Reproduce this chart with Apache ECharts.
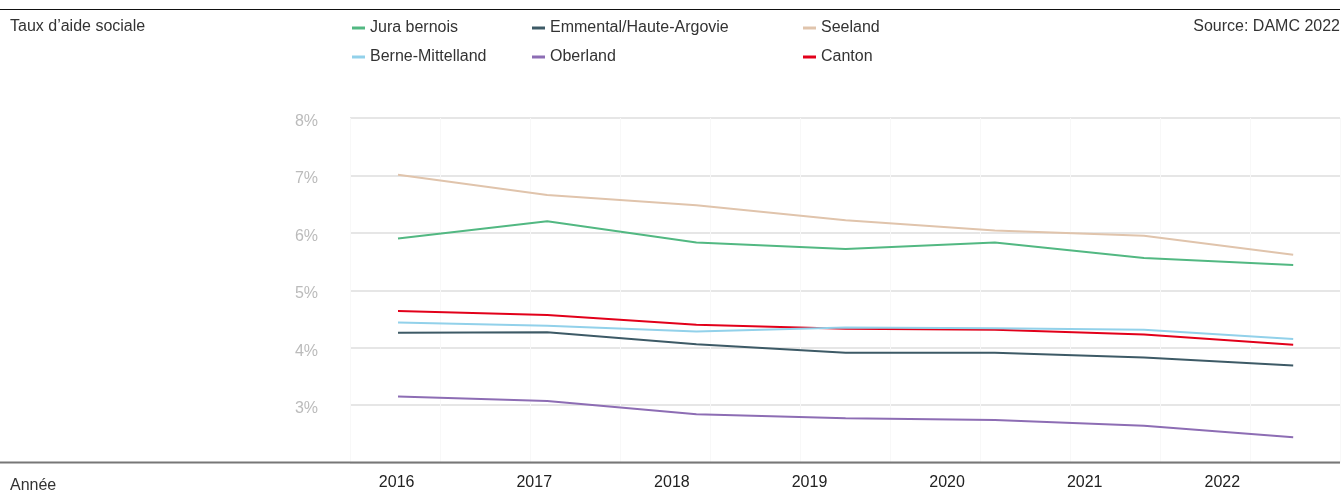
<!DOCTYPE html>
<html>
<head>
<meta charset="utf-8">
<script src="https://cdn.jsdelivr.net/npm/echarts@6/dist/echarts.min.js"></script>
<style>
  html, body { margin: 0; padding: 0; background: #fff; }
  #main { width: 1344px; height: 498px; }
</style>
</head>
<body>
<div id="main"></div>
<script>
// years shown on the x axis
const years = [2016, 2017, 2018, 2019, 2020, 2021, 2022];

// social assistance rate in %
const juraBernois = [5.90, 6.20, 5.83, 5.72, 5.83, 5.56, 5.44];
const emmental = [4.26, 4.27, 4.06, 3.91, 3.91, 3.83, 3.69];
const seeland = [7.01, 6.66, 6.48, 6.22, 6.04, 5.95, 5.62];
const berneMittelland = [4.44, 4.38, 4.28, 4.35, 4.34, 4.31, 4.15];
const oberland = [3.15, 3.07, 2.84, 2.77, 2.74, 2.64, 2.44];
const canton = [4.64, 4.57, 4.40, 4.33, 4.31, 4.23, 4.05];

const yTicks = [3, 4, 5, 6, 7, 8];

const font = "'Liberation Sans', Arial, sans-serif";

const myChart = echarts.init(document.getElementById("main"));

function makeSeries(name, values, color) {
  return {
    name: name,
    type: "line",
    xAxisIndex: 0,
    data: values.map((v, i) => [i, v]),
    showSymbol: false,
    symbol: "none",
    lineStyle: { color: color, width: 2 },
    itemStyle: { color: color },
    emphasis: { disabled: true },
  };
}

const legendBase = {
  orient: "vertical",
  top: 14,
  icon: "rect",
  itemWidth: 13,
  itemHeight: 3,
  itemGap: 11,
  selectedMode: false,
  textStyle: { fontSize: 16, color: "#333", fontFamily: font, lineHeight: 18 },
};

const option = {
  animation: false,
  textStyle: { fontFamily: font },
  grid: { left: 350, right: 4, top: 118, bottom: 35.5 },
  legend: [
    Object.assign({ left: 347, data: ["Jura bernois", "Berne-Mittelland"] }, legendBase),
    Object.assign({ left: 527, data: ["Emmental/Haute-Argovie", "Oberland"] }, legendBase),
    Object.assign({ left: 798, data: ["Seeland", "Canton"] }, legendBase),
  ],
  xAxis: [
    {
      // data axis: one step per year index
      type: "value",
      position: "bottom",
      min: -0.3217,
      max: 6.3137,
      show: false,
    },
    {
      // label axis
      type: "value",
      position: "bottom",
      min: 2015.661,
      max: 2022.855,
      axisLine: { show: false },
      axisTick: { show: false },
      splitLine: { show: false },
      axisLabel: {
        customValues: years,
        formatter: (v) => String(v),
        color: "#222",
        fontSize: 16,
        margin: 12,
        fontFamily: font,
      },
    },
    {
      // faint vertical guides
      type: "value",
      position: "bottom",
      min: 0,
      max: 11,
      interval: 1,
      axisLine: { show: false },
      axisTick: { show: false },
      axisLabel: { show: false },
      splitLine: { show: true, lineStyle: { color: "#f8f8f8", width: 1 } },
    },
  ],
  yAxis: {
    type: "value",
    min: 2,
    max: 8,
    interval: 1,
    axisLine: { show: false },
    axisTick: { show: false },
    axisLabel: {
      customValues: yTicks,
      formatter: (v) => v + "%",
      color: "#bbb",
      fontSize: 16,
      margin: 32,
      verticalAlign: "top",
      lineHeight: 7,
      fontFamily: font,
    },
    splitLine: { lineStyle: { color: "#dedede", width: 1.5 } },
  },
  series: [
    makeSeries("Jura bernois", juraBernois, "#52b882"),
    makeSeries("Emmental/Haute-Argovie", emmental, "#3d5a66"),
    makeSeries("Seeland", seeland, "#e0c4ac"),
    makeSeries("Canton", canton, "#e2001a"),
    makeSeries("Berne-Mittelland", berneMittelland, "#92d1ea"),
    makeSeries("Oberland", oberland, "#8d6db4"),
  ],
  graphic: [
    {
      type: "line",
      shape: { x1: 0, y1: 9.5, x2: 1340, y2: 9.5 },
      style: { stroke: "#111", lineWidth: 1 },
    },
    {
      type: "line",
      shape: { x1: 0, y1: 462.5, x2: 1340, y2: 462.5 },
      style: { stroke: "#777", lineWidth: 2 },
      z: 10,
    },
    {
      type: "text",
      left: 10,
      top: 19,
      style: { text: "Taux d\u2019aide sociale", fontSize: 16, fill: "#333", fontFamily: font },
    },
    {
      type: "text",
      right: 4,
      top: 19,
      style: { text: "Source: DAMC 2022", fontSize: 16, fill: "#333", fontFamily: font },
    },
    {
      type: "text",
      left: 10,
      top: 478,
      style: { text: "Ann\u00e9e", fontSize: 16, fill: "#333", fontFamily: font },
    },
  ],
};

myChart.setOption(option);
</script>
</body>
</html>
